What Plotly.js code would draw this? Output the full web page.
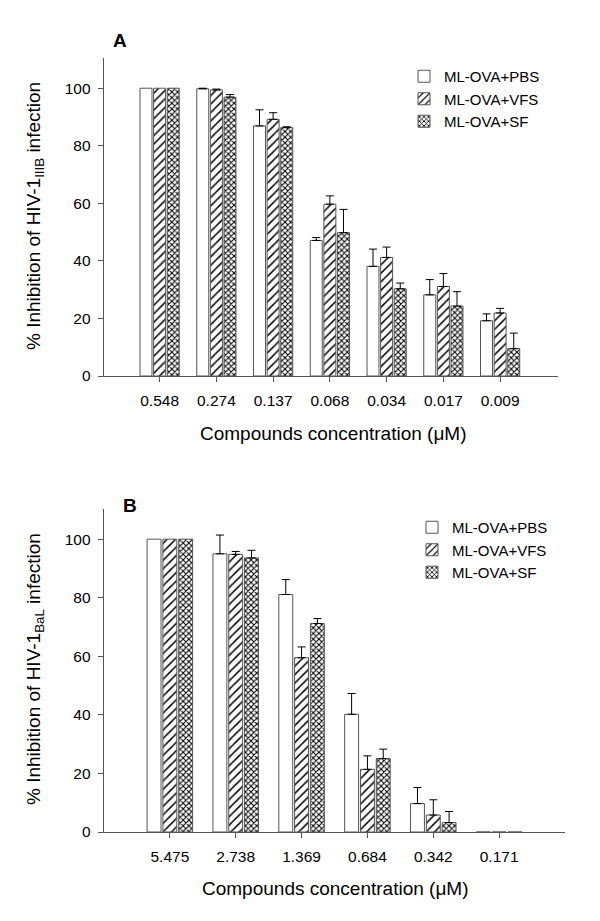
<!DOCTYPE html>
<html>
<head>
<meta charset="utf-8">
<script src="https://cdn.plot.ly/plotly-3.0.1.min.js"></script>
<style>html,body{margin:0;padding:0;background:#fff;}#chart{width:600px;height:921px;}</style>
</head>
<body>
<div id="chart"></div>
<script>
// Panel A: HIV-1 IIIB
const catsA = ["0.548", "0.274", "0.137", "0.068", "0.034", "0.017", "0.009"];
const pbsA = [100, 99.8, 86.9, 47.1, 38.1, 28.2, 19.2];
const vfsA = [100, 99.4, 89.2, 59.7, 41.2, 31.1, 21.9];
const sfA = [100, 96.9, 86.3, 49.8, 30.3, 24.3, 9.5];
const errPbsA = [null, 0.2, 5.6, 1.0, 6.0, 5.3, 2.4];
const errVfsA = [null, 0.3, 2.3, 2.9, 3.6, 4.5, 1.6];
const errSfA = [null, 0.9, 0.3, 8.1, 2.0, 5.0, 5.4];

// Panel B: HIV-1 BaL
const catsB = ["5.475", "2.738", "1.369", "0.684", "0.342", "0.171"];
const pbsB = [100, 95.0, 81.1, 40.2, 9.7, 0];
const vfsB = [100, 94.8, 59.5, 21.4, 5.8, 0];
const sfB = [100, 93.6, 71.2, 25.1, 3.2, 0];
const errPbsB = [null, 6.4, 5.1, 7.1, 5.5, null];
const errVfsB = [null, 1.0, 3.7, 4.6, 5.2, null];
const errSfB = [null, 2.6, 1.7, 3.2, 3.8, null];

const seriesNames = ["ML-OVA+PBS", "ML-OVA+VFS", "ML-OVA+SF"];
const patterns = [
  {shape: ""},
  {shape: "/", size: 6, solidity: 0.25, fgcolor: "#000", bgcolor: "#fff"},
  {shape: "x", size: 4, solidity: 0.45, fgcolor: "#000", bgcolor: "#fff"}
];

const FONT = "Liberation Sans, Arial, sans-serif";

function mk(cats, vals, errs, i, xa, ya, leg) {
  // a missing error (null) is not drawn at all
  const up = errs.map(e => (e === null ? NaN : e));
  return {
    type: "bar",
    x: cats, y: vals,
    name: seriesNames[i],
    xaxis: xa, yaxis: ya,
    legend: leg,
    marker: {color: "#fff", line: {color: "#555", width: 1}, pattern: patterns[i]},
    error_y: {type: "data", symmetric: false, array: up, arrayminus: up.map(e => (isNaN(e) ? NaN : 0)),
              color: "#000", thickness: 1, width: 4},
    hoverinfo: "x+y"
  };
}

const data = [
  mk(catsA, pbsA, errPbsA, 0, "x", "y", "legend"),
  mk(catsA, vfsA, errVfsA, 1, "x", "y", "legend"),
  mk(catsA, sfA, errSfA, 2, "x", "y", "legend"),
  mk(catsB, pbsB, errPbsB, 0, "x2", "y2", "legend2"),
  mk(catsB, vfsB, errVfsB, 1, "x2", "y2", "legend2"),
  mk(catsB, sfB, errSfB, 2, "x2", "y2", "legend2")
];

const axCommon = {
  showgrid: false, zeroline: false, showline: true, linecolor: "#555", linewidth: 1.3,
  ticks: "outside", ticklen: 5, tickcolor: "#555", tickwidth: 1,
  tickfont: {family: FONT, size: 15.5, color: "#000"}, automargin: false, fixedrange: true
};

const layout = {
  width: 600, height: 921,
  margin: {l: 0, r: 0, t: 0, b: 0},
  paper_bgcolor: "#fff", plot_bgcolor: "#fff",
  font: {family: FONT, color: "#000"},
  barmode: "group", bargap: 0.28, bargroupgap: 0.12,
  xaxis: Object.assign({}, axCommon, {domain: [104/600, 558/600], anchor: "y", type: "category",
    range: [-0.98, 7.02], ticklabelstandoff: 5}),
  yaxis: Object.assign({}, axCommon, {domain: [1 - 376/921, 1 - 58/921], anchor: "x",
    range: [0, 110.5], tickvals: [0, 20, 40, 60, 80, 100], ticklabelstandoff: 4}),
  xaxis2: Object.assign({}, axCommon, {domain: [104/600, 565/600], anchor: "y2", type: "category",
    range: [-1, 6], ticklabelstandoff: 5}),
  yaxis2: Object.assign({}, axCommon, {domain: [1 - 832/921, 1 - 509/921], anchor: "x2",
    range: [0, 110.3], tickvals: [0, 20, 40, 60, 80, 100], ticklabelstandoff: 4}),
  legend: {x: 404/600, y: 1 - 60/921, xanchor: "left", yanchor: "top",
    font: {family: FONT, size: 15, color: "#000"}, bgcolor: "rgba(0,0,0,0)", tracegroupgap: 0},
  legend2: {x: 412/600, y: 1 - 511/921, xanchor: "left", yanchor: "top",
    font: {family: FONT, size: 15, color: "#000"}, bgcolor: "rgba(0,0,0,0)", tracegroupgap: 0},
  annotations: [
    {text: "<b>A</b>", xref: "paper", yref: "paper", x: 120/600, y: 1 - 40/921, showarrow: false,
     font: {family: FONT, size: 19}, xanchor: "center", yanchor: "middle"},
    {text: "<b>B</b>", xref: "paper", yref: "paper", x: 130/600, y: 1 - 505/921, showarrow: false,
     font: {family: FONT, size: 19}, xanchor: "center", yanchor: "middle"},
    {text: "% Inhibition of HIV-1<sub>IIIB</sub> infection", xref: "paper", yref: "paper",
     x: 35/600, y: 1 - 216/921, textangle: -90, showarrow: false,
     font: {family: FONT, size: 19}, xanchor: "center", yanchor: "middle"},
    {text: "% Inhibition of HIV-1<sub>BaL</sub> infection", xref: "paper", yref: "paper",
     x: 35/600, y: 1 - 669/921, textangle: -90, showarrow: false,
     font: {family: FONT, size: 19}, xanchor: "center", yanchor: "middle"},
    {text: "Compounds concentration (μM)", xref: "paper", yref: "paper",
     x: 333/600, y: 1 - 433/921, showarrow: false,
     font: {family: FONT, size: 19}, xanchor: "center", yanchor: "middle"},
    {text: "Compounds concentration (μM)", xref: "paper", yref: "paper",
     x: 335/600, y: 1 - 888/921, showarrow: false,
     font: {family: FONT, size: 19}, xanchor: "center", yanchor: "middle"}
  ]
};

Plotly.newPlot("chart", data, layout, {staticPlot: true, displayModeBar: false});
</script>
</body>
</html>
